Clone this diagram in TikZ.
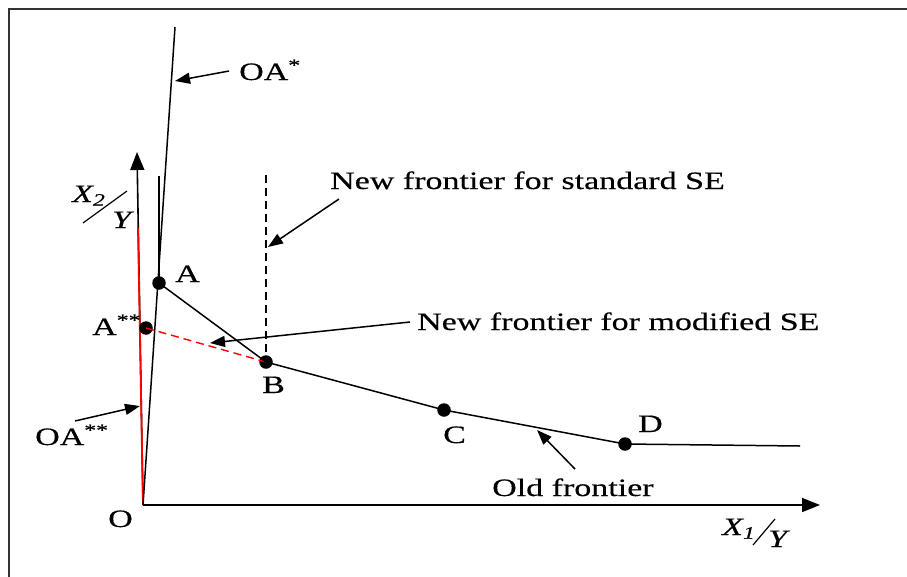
\documentclass[tikz,border=0pt]{standalone}
\usepackage{fontspec}
\setmainfont{Liberation Serif}[FakeStretch=1.36,FakeBold=0.4]
\usetikzlibrary{arrows.meta}
\begin{document}
\begin{tikzpicture}[x=1pt,y=-1pt,
  dot/.style={circle,fill=black,inner sep=0pt,minimum size=13.5pt},
  lbl/.style={font=\fontsize{25}{29}\selectfont,inner sep=0pt,anchor=base west},
  axisline/.style={line width=1.6pt,-{Triangle[length=18pt,width=14pt]}},
  pointer/.style={line width=1.5pt,-{Triangle[length=15pt,width=11pt]}},
  frontier/.style={line width=1.5pt},
  slashline/.style={line width=1.2pt}]
\useasboundingbox (0,0) rectangle (907,576);
\draw[line width=2.2pt,black!80] (9,590) -- (9,9) -- (915,9);
% key points
\coordinate (O) at (143,505);
\coordinate (yend) at (137,152);
\coordinate (xend) at (820,505);
\coordinate (OAtop) at (175,27);
\coordinate (Atop) at (159,176);
\coordinate (redtop) at (138,228);
\coordinate (dashtop) at (266,175);
\coordinate (Dend) at (800,446);
% axes
\draw[axisline] (O) -- (yend);
\draw[axisline] (O) -- (xend);
\draw[red,line width=1.8pt] (O) -- (redtop);
\draw[frontier] (O) -- (OAtop);
\node[dot] (A) at (159,283) {};
\node[dot] (A2) at (146,328) {};
\node[dot] (B) at (266,362) {};
\node[dot] (C) at (444,410) {};
\node[dot] (D) at (625,444) {};
\draw[frontier] (Atop) -- (A.center);
\draw[red,dashed,dash pattern=on 8pt off 5pt,line width=1.4pt] (A2.center) -- (B.center);
\draw[dashed,dash pattern=on 8pt off 5pt,line width=1.4pt] (dashtop) -- (B.center);
\draw[frontier] (A.center) -- (B.center) -- (C.center) -- (D.center) -- (Dend);
% labels
\node[lbl] (lA) at (175,282) {A};
\node[lbl] (lA2) at (92,335) {A\textsuperscript{**}};
\node[lbl] (lB) at (262,393) {B};
\node[lbl] (lC) at (443,443) {C};
\node[lbl] (lD) at (638,432) {D};
\node[lbl] (lO) at (108,527) {O};
\node[lbl] (lOA) at (239,80) {OA\textsuperscript{*}};
\node[lbl] (lOA2) at (35,445) {OA\textsuperscript{**}};
\node[lbl] (lold) at (492,496) {Old frontier};
\node[lbl] (lstd) at (330,189) {New frontier for standard SE};
\node[lbl] (lmod) at (417,330) {New frontier for modified SE};
% pointers
\coordinate (pOAs) at (229,71);   \coordinate (pOAt) at (175,81);
\coordinate (pOA2s) at (75,421);  \coordinate (pOA2t) at (140,406);
\coordinate (pstds) at (339,199); \coordinate (pstdt) at (268,247);
\coordinate (pmods) at (410,322); \coordinate (pmodt) at (210,343);
\coordinate (polds) at (575,469); \coordinate (poldt) at (537,430);
\draw[pointer] (pOAs) -- (pOAt);
\draw[pointer] (pOA2s) -- (pOA2t);
\draw[pointer] (pstds) -- (pstdt);
\draw[pointer] (pmods) -- (pmodt);
\draw[pointer] (polds) -- (poldt);
% axis titles
\node[lbl] (lX2) at (72,202) {\itshape X\textsubscript{2}};
\node[lbl] (lY2) at (112,228) {\itshape Y};
\coordinate (s2a) at (83,223); \coordinate (s2b) at (127,191);
\draw[slashline] (s2a) -- (s2b);
\node[lbl] (lX1) at (722,535) {\itshape X\textsubscript{1}};
\node[lbl] (lY1) at (768,547) {\itshape Y};
\coordinate (s1a) at (753,545); \coordinate (s1b) at (775,519);
\draw[slashline] (s1a) -- (s1b);
\end{tikzpicture}
\end{document}
